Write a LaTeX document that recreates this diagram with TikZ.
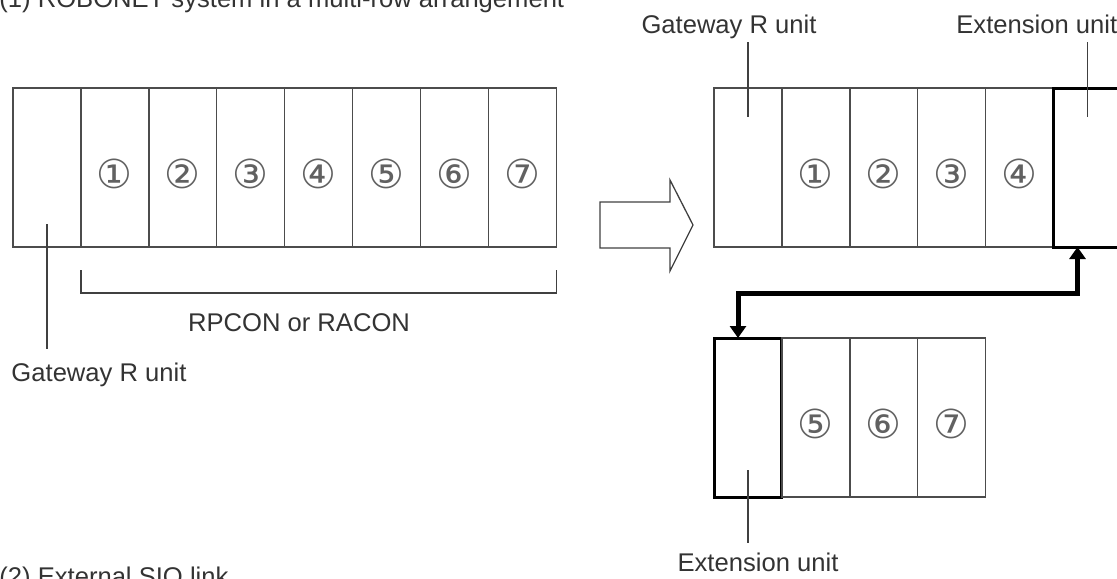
\documentclass[tikz,border=0pt]{standalone}
\usepackage{fontspec}
\setmainfont{Liberation Sans}
\newfontfamily\digitfont{DejaVu Sans}
\usetikzlibrary{arrows.meta,positioning}

\newcommand{\lowdigit}[1]{\raisebox{0pt}[\dimexpr\height+6pt][\depth]{#1}}

\begin{document}
\begin{tikzpicture}[x=0.5pt, y=-0.5pt, >={Triangle[width=8pt,length=6pt]}]
    \tikzstyle{unitbox}=[rectangle, draw=black!70, line width=0.65pt, minimum width=33.95pt, minimum height=79.5pt, inner sep=0pt, outer sep=0pt, font=\digitfont\fontsize{20}{20}\selectfont, text=black!62]
    \tikzstyle{extbox}=[unitbox, draw=black, line width=1.5pt]
    \tikzstyle{caption}=[inner sep=0pt, anchor=base, font=\fontsize{12.8}{15}\selectfont, text=black!80]
    \tikzstyle{leader}=[draw=black!75, line width=0.65pt]
    \clip (0,0) rectangle (1117,578);

    % headings, cut by the page edge
    \node[caption, anchor=base west] (head1) at (-1,8) {(1) ROBONET system in a multi-row arrangement};
    \node[caption, anchor=base west] (head2) at (-1,585) {(2) External SIO link};

    % one row
    \node[unitbox] (l0) at (47,167.5) {};
    \foreach \i/\p/\c in {1/0/①,2/1/②,3/2/③,4/3/④,5/4/⑤,6/5/⑥,7/6/⑦} {
        \node[unitbox, right=0pt of l\p] (l\i) {\lowdigit{\c}};
    }
    \node[caption] (gwleft) at (99,381) {Gateway R unit};
    \draw[leader] (l0 |- 0,224) -- (l0 |- 0,349);
    \draw[leader] (l1.south west |- 0,270) -- (l1.south west |- 0,293) -- (l7.south east |- 0,293) -- (l7.south east |- 0,270);
    \node[caption] (ctrl) at (299,331) {RPCON or RACON};

    % hollow arrow
    \draw[black!75, line width=0.65pt] (600,202) -- (670,202) -- (670,180) -- (693,225) -- (670,271) -- (670,248) -- (600,248) -- cycle;

    % upper row
    \node[unitbox] (r0) at (748,167.5) {};
    \foreach \i/\p/\c in {1/0/①,2/1/②,3/2/③,4/3/④} {
        \node[unitbox, right=0pt of r\p] (r\i) {\lowdigit{\c}};
    }
    \node[extbox, right=0pt of r4] (ext1) {};
    \node[caption] (gwright) at (729,33) {Gateway R unit};
    \node[caption, anchor=base west] (extup) at (956,33) {Extension unit};
    \draw[leader] (r0 |- 0,42) -- (r0 |- 0,117);
    \draw[leader] (ext1 |- 0,42) -- (ext1 |- 0,117);

    % lower row
    \node[extbox] (ext2) at (748,417.5) {};
    \foreach \i/\p/\c in {5/ext2/⑤,6/d5/⑥,7/d6/⑦} {
        \node[unitbox, right=0pt of \p] (d\i) {\lowdigit{\c}};
    }
    \node[caption] (extlow) at (758,571) {Extension unit};
    \draw[leader] (ext2 |- 0,470) -- (ext2 |- 0,543);

    % link between the extension units
    \draw[<->, line width=2.5pt] ([xshift=-5pt]ext1.south) -- ++(0,46) -| ([xshift=-5pt]ext2.north);
\end{tikzpicture}
\end{document}
